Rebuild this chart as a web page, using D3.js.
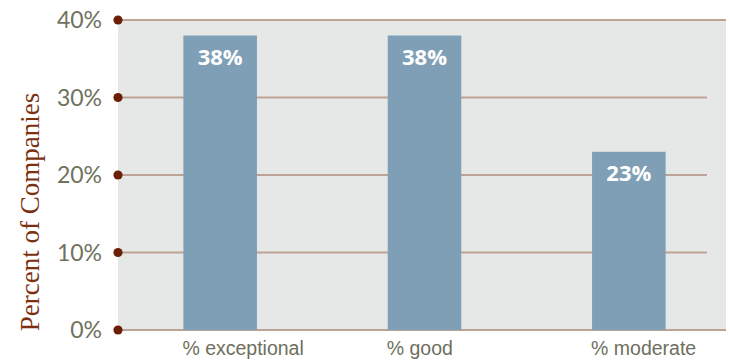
<!DOCTYPE html>
<html>
<head>
<meta charset="utf-8">
<script src="https://cdn.jsdelivr.net/npm/d3@7"></script>
<style>
  body { margin: 0; background: #ffffff; }
</style>
</head>
<body>
<div id="canvas"></div>
<script>
"use strict"

// chart data
let categories = ["% exceptional", "% good", "% moderate"];
let percentValues = [38, 38, 23];
let tickValues = [0, 10, 20, 30, 40];

let drawingWidth = 730;
let drawingHeight = 362;

let plotLeft = 118, plotRight = 726, plotTop = 20, plotBottom = 330;

let drawing = d3.select("#canvas")
    .append("svg")
    .attr("width", drawingWidth)
    .attr("height", drawingHeight);

let xScale = d3.scaleBand()
    .domain(categories)
    .range([plotLeft, 731])
    .paddingInner(0.64)
    .paddingOuter(0.32);

let yScale = d3.scaleLinear()
    .domain([0, 40])
    .range([plotBottom, plotTop]);

/* grey plot background */
drawing.append("rect")
    .attr("x", plotLeft)
    .attr("y", plotTop)
    .attr("width", plotRight - plotLeft)
    .attr("height", plotBottom - plotTop)
    .attr("fill", "#e6e8e7");

/* gridlines: top and bottom run full width, inner ones stop short */
drawing.selectAll(".grid")
    .data(tickValues)
    .enter()
    .append("line")
    .attr("x1", plotLeft)
    .attr("x2", d => (d === 0 || d === 40) ? plotRight : 707)
    .attr("y1", d => yScale(d))
    .attr("y2", d => yScale(d))
    .attr("stroke", "#bda396")
    .attr("stroke-width", 2.2);

/* bars */
drawing.selectAll(".bar")
    .data(percentValues)
    .enter()
    .append("rect")
    .attr("x", (d, i) => xScale(categories[i]))
    .attr("y", d => yScale(d))
    .attr("width", xScale.bandwidth())
    .attr("height", d => yScale(0) - yScale(d))
    .attr("fill", "#7f9fb7");

/* value labels inside bars */
drawing.selectAll(".valueLabel")
    .data(percentValues)
    .enter()
    .append("text")
    .attr("x", (d, i) => xScale(categories[i]) + xScale.bandwidth() / 2)
    .attr("y", d => yScale(d) + 29)
    .attr("text-anchor", "middle")
    .attr("font-family", "'Open Sans', sans-serif")
    .attr("font-weight", "bold")
    .attr("font-size", 22)
    .attr("fill", "#ffffff")
    .text(d => d + "%");

/* tick dots */
drawing.selectAll(".tickDot")
    .data(tickValues)
    .enter()
    .append("circle")
    .attr("cx", plotLeft)
    .attr("cy", d => yScale(d))
    .attr("r", 4.6)
    .attr("fill", "#6b1f05");

/* y tick labels */
drawing.selectAll(".tickLabel")
    .data(tickValues)
    .enter()
    .append("text")
    .attr("x", 102)
    .attr("y", d => yScale(d) + 8)
    .attr("text-anchor", "end")
    .attr("font-family", "Lato, sans-serif")
    .attr("font-size", 23)
    .attr("fill", "#707260")
    .text(d => d + "%");

/* category labels */
drawing.selectAll(".catLabel")
    .data(categories)
    .enter()
    .append("text")
    .attr("x", d => xScale(d) - 1)
    .attr("y", 355)
    .attr("font-family", "'Liberation Sans', Arial, sans-serif")
    .attr("font-size", 19.5)
    .attr("fill", "#6e6f5d")
    .text(d => d);

/* y axis title */
drawing.append("text")
    .attr("transform", "translate(39," + 212 + ") rotate(-90)")
    .attr("text-anchor", "middle")
    .attr("font-family", "'Liberation Serif', serif")
    .attr("font-size", 27)
    .attr("fill", "#7b3010")
    .text("Percent of Companies");
</script>
</body>
</html>
